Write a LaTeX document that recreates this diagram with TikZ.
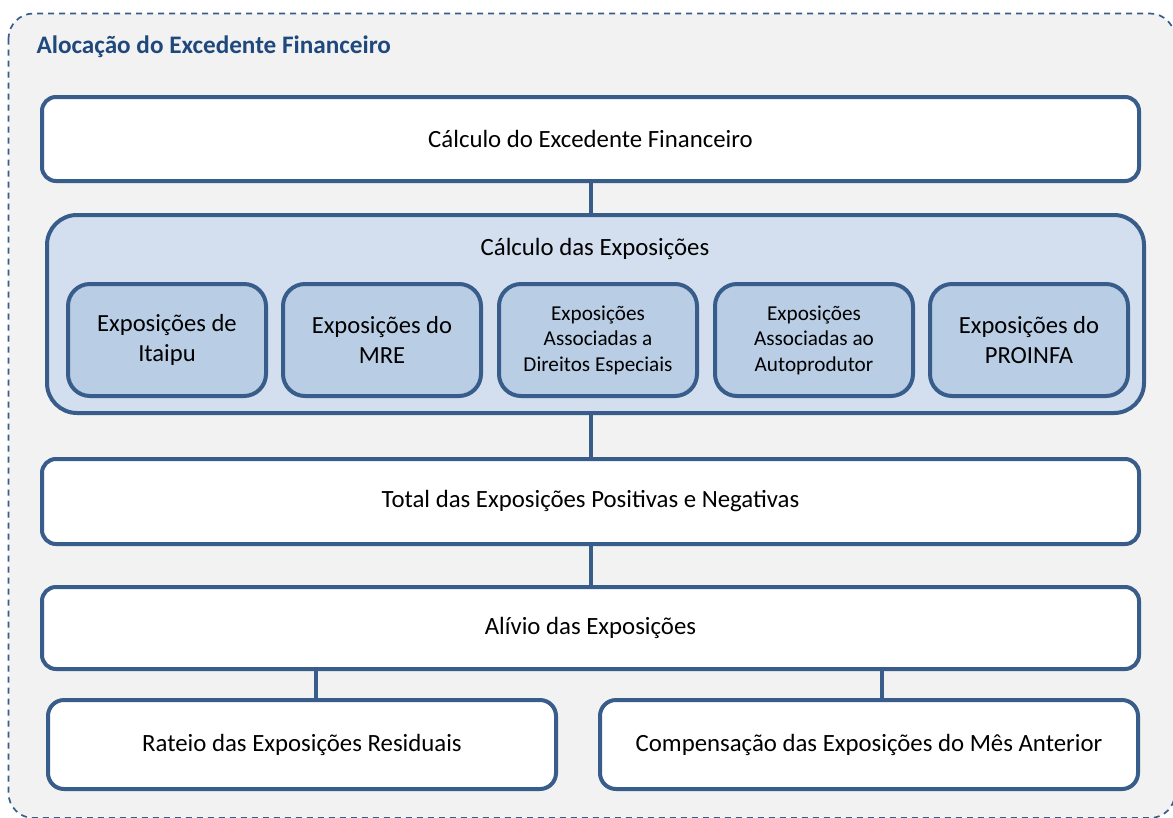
\documentclass[tikz,border=0pt]{standalone}
\usepackage{fontspec}
\setmainfont{Carlito}
\definecolor{edgeblue}{HTML}{385D8A}
\definecolor{titleblue}{HTML}{1F497D}
\definecolor{groupfill}{HTML}{D3DFEE}
\definecolor{itemfill}{HTML}{B9CDE5}
\definecolor{pagegray}{HTML}{F2F2F2}
\begin{document}
\begin{tikzpicture}[x=1pt, y=-1pt,
  wide/.style={draw=edgeblue, line width=4pt, fill=white, rounded corners=14pt,
    minimum width=1097pt, inner sep=0pt, font=\fontsize{24.8}{30}\selectfont},
  group/.style={draw=edgeblue, line width=4pt, fill=groupfill, rounded corners=30pt,
    minimum width=1097pt, minimum height=198pt, inner sep=0pt},
  item/.style={draw=edgeblue, line width=4pt, fill=itemfill, rounded corners=22pt,
    minimum width=198pt, minimum height=112pt, inner sep=0pt, align=center,
    font=\fontsize{24.6}{30}\selectfont},
  smallitem/.style={item, font=\fontsize{21.2}{25.5}\selectfont},
  half/.style={draw=edgeblue, line width=4pt, fill=white, rounded corners=16pt,
    minimum height=89pt, inner sep=0pt, font=\fontsize{24.8}{30}\selectfont},
  link/.style={draw=edgeblue, line width=4pt}]
\clip (0,0) rectangle (1173,817);
\fill[white] (0,0) rectangle (1173,817);
% outer dashed frame
\draw[edgeblue, line width=1.7pt, dash pattern=on 6pt off 5pt, fill=pagegray,
  rounded corners=25pt] (8.5,13.5) rectangle (1175,818);
\node[anchor=west, text=titleblue, font=\fontsize{25.2}{30}\bfseries] (title) at (33,47)
  {Alocação do Excedente Financeiro};

\node[wide, minimum height=84pt] (calc) at (590.5,139) {Cálculo do Excedente Financeiro};
\node[group] (expo) at (595.5,314) {};
\node[font=\fontsize{24.8}{30}\selectfont] (expotitle) at (595,249) {Cálculo das Exposições};
\node[item] (itaipu) at (167,340) {Exposições de\\Itaipu};
\node[item] (mre) at (382,340) {Exposições do\\MRE};
\node[smallitem] (direitos) at (598,340) {Exposições\\Associadas a\\Direitos Especiais};
\node[smallitem] (autoprod) at (814,340) {Exposições\\Associadas ao\\Autoprodutor};
\node[item] (proinfa) at (1029,340) {Exposições do\\PROINFA};
\node[wide, minimum height=85pt] (total) at (590.5,501.5) {Total das Exposições Positivas e Negativas};
\node[wide, minimum height=82pt] (alivio) at (590.5,628) {Alívio das Exposições};
\node[half, minimum width=508pt] (rateio) at (302,744.5) {Rateio das Exposições Residuais};
\node[half, minimum width=538pt] (compens) at (869,744.5) {Compensação das Exposições do Mês Anterior};

\draw[link] (calc.south) -- (calc.south |- expo.north);
\draw[link] (total.north) -- (total.north |- expo.south);
\draw[link] (alivio.north) -- (total.south);
\draw[link] ([xshift=14pt]rateio.north) -- ([xshift=14pt]rateio.north |- alivio.south);
\draw[link] ([xshift=13pt]compens.north) -- ([xshift=13pt]compens.north |- alivio.south);
\end{tikzpicture}
\end{document}
